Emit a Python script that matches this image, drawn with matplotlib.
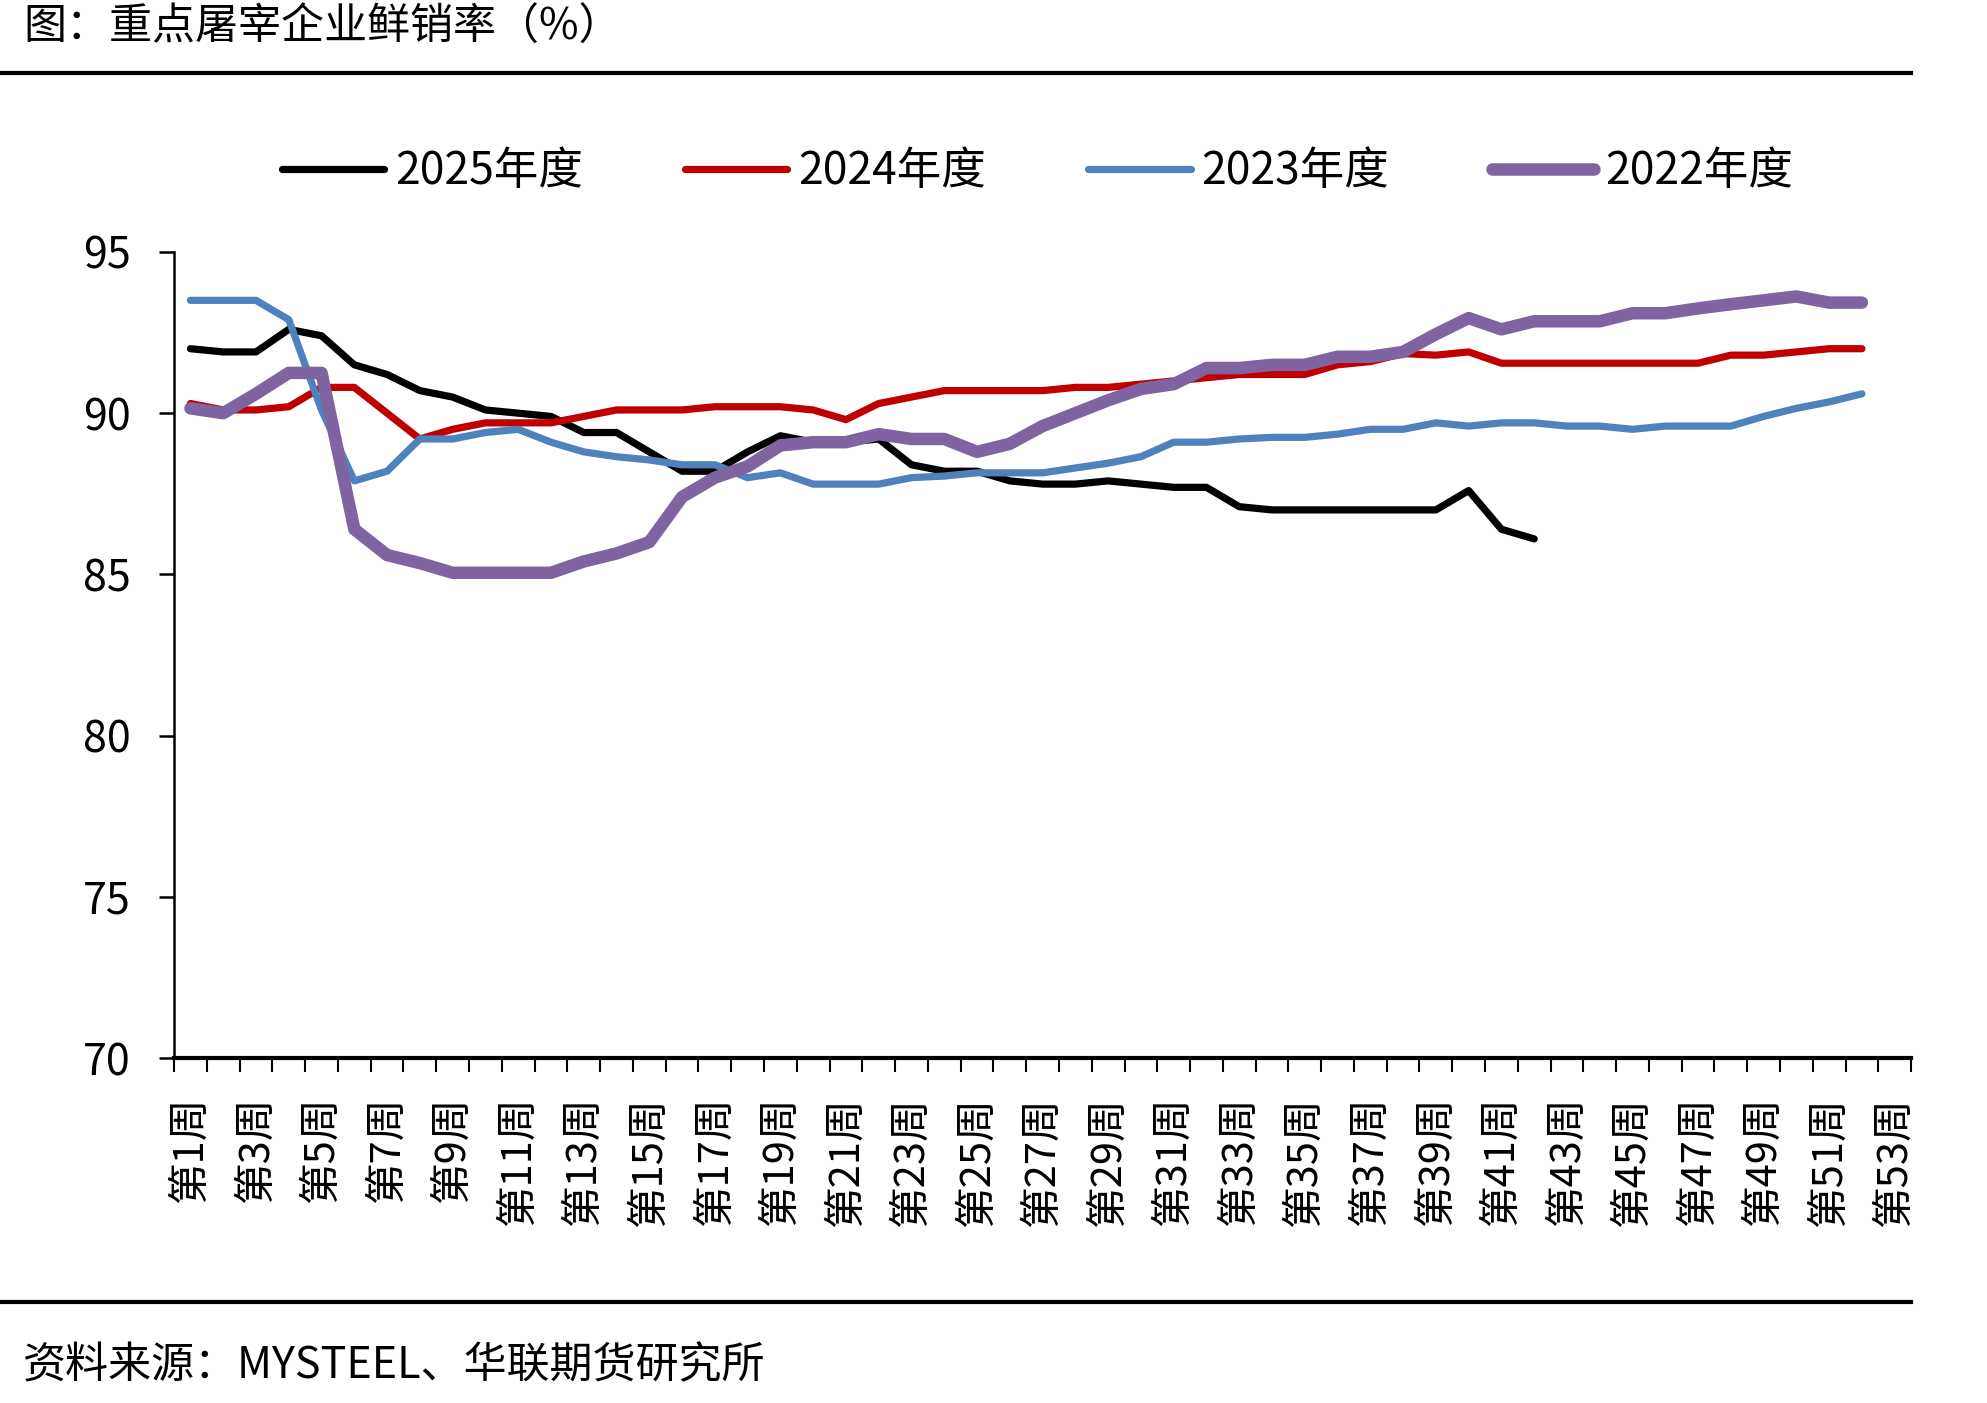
import matplotlib
matplotlib.use("Agg")
import matplotlib.pyplot as plt
from matplotlib.lines import Line2D
import numpy as np

plt.rcParams['font.family'] = ['Noto Sans CJK SC', 'DejaVu Sans']

# weekly fresh-sales rate of key slaughterhouses (%)
weeks = [f"第{i}周" for i in range(1, 54)]

y2025 = [92.0, 91.9, 91.9, 92.6, 92.4, 91.5, 91.2, 90.7, 90.5, 90.1,
         90.0, 89.9, 89.4, 89.4, 88.8, 88.2, 88.2, 88.8, 89.3, 89.1,
         89.1, 89.2, 88.4, 88.2, 88.2, 87.9, 87.8, 87.8, 87.9, 87.8,
         87.7, 87.7, 87.1, 87.0, 87.0, 87.0, 87.0, 87.0, 87.0, 87.6,
         86.4, 86.1]
y2024 = [90.3, 90.1, 90.1, 90.2, 90.8, 90.8, 90.0, 89.2, 89.5, 89.7,
         89.7, 89.7, 89.9, 90.1, 90.1, 90.1, 90.2, 90.2, 90.2, 90.1,
         89.8, 90.3, 90.5, 90.7, 90.7, 90.7, 90.7, 90.8, 90.8, 90.9,
         91.0, 91.1, 91.2, 91.2, 91.2, 91.5, 91.6, 91.85, 91.8, 91.9,
         91.55, 91.55, 91.55, 91.55, 91.55, 91.55, 91.55, 91.8, 91.8, 91.9,
         92.0, 92.0]
y2023 = [93.5, 93.5, 93.5, 92.9, 90.1, 87.9, 88.2, 89.2, 89.2, 89.4,
         89.5, 89.1, 88.8, 88.65, 88.55, 88.4, 88.4, 88.0, 88.15, 87.8,
         87.8, 87.8, 88.0, 88.05, 88.15, 88.15, 88.15, 88.3, 88.45, 88.65,
         89.1, 89.1, 89.2, 89.25, 89.25, 89.35, 89.5, 89.5, 89.7, 89.6,
         89.7, 89.7, 89.6, 89.6, 89.5, 89.6, 89.6, 89.6, 89.9, 90.15,
         90.35, 90.6]
y2022 = [90.15, 90.0, 90.6, 91.25, 91.25, 86.4, 85.6, 85.35, 85.05, 85.05,
         85.05, 85.05, 85.4, 85.65, 86.0, 87.4, 88.0, 88.35, 89.0, 89.1,
         89.1, 89.35, 89.2, 89.2, 88.8, 89.05, 89.6, 90.0, 90.4, 90.75,
         90.9, 91.4, 91.4, 91.5, 91.5, 91.75, 91.75, 91.9, 92.45, 92.95,
         92.6, 92.85, 92.85, 92.85, 93.1, 93.1, 93.25, 93.38, 93.5, 93.62,
         93.43, 93.43]

series = [
    ("2025年度", y2025, "#000000", 5.2),
    ("2024年度", y2024, "#C00000", 5.2),
    ("2023年度", y2023, "#4F81BD", 5.2),
    ("2022年度", y2022, "#8064A2", 9.0),
]

fig = plt.figure(figsize=(19.87, 14.03), dpi=100)
ax = fig.add_axes([0.0876, 0.2459, 0.8742, 0.5745])

for name, vals, color, lw in series:
    x = np.arange(1, len(vals) + 1)
    ax.plot(x, vals, color=color, lw=lw, label=name,
            solid_capstyle='round', solid_joinstyle='round')

ax.set_xlim(0.5, 53.5)
ax.set_ylim(70, 95)
ax.set_yticks([70, 75, 80, 85, 90, 95])

# category boundary ticks + labels on every second week
ax.set_xticks(np.arange(0.5, 54.0, 1.0))
ax.set_xticklabels([])
ax.set_xticks(np.arange(1, 54, 2), minor=True)
ax.set_xticklabels(weeks[::2], minor=True, rotation=90, fontsize=30,
                   fontweight='medium')
ax.tick_params(axis='x', which='major', direction='out', length=10, width=1.5)
ax.tick_params(axis='x', which='minor', length=0, pad=28)
ax.tick_params(axis='y', direction='out', length=11, width=1.8,
               labelsize=31, pad=20)
for lab in ax.get_yticklabels():
    lab.set_fontweight('medium')

for s in ['top', 'right']:
    ax.spines[s].set_visible(False)
ax.spines['bottom'].set_linewidth(3.0)
ax.spines['left'].set_linewidth(1.8)

fig.legend(loc='center', bbox_to_anchor=(0.522, 0.878), ncol=4, frameon=False,
           prop={'size': 32, 'weight': 'medium'}, handlelength=2.3,
           handletextpad=0.25, columnspacing=2.3)

fig.text(0.0116, 0.980, "图：重点屠宰企业鲜销率（%）", fontsize=31,
         fontweight='medium', ha='left', va='center')
fig.text(0.0116, 0.0264, "资料来源：MYSTEEL、华联期货研究所", fontsize=31,
         fontweight='medium', ha='left', va='center')

fig.add_artist(Line2D([0, 0.9617], [0.948, 0.948], color='black', lw=3,
                      transform=fig.transFigure))
fig.add_artist(Line2D([0, 0.9617], [0.072, 0.072], color='black', lw=3,
                      transform=fig.transFigure))

fig.savefig("out.png", dpi=100)
